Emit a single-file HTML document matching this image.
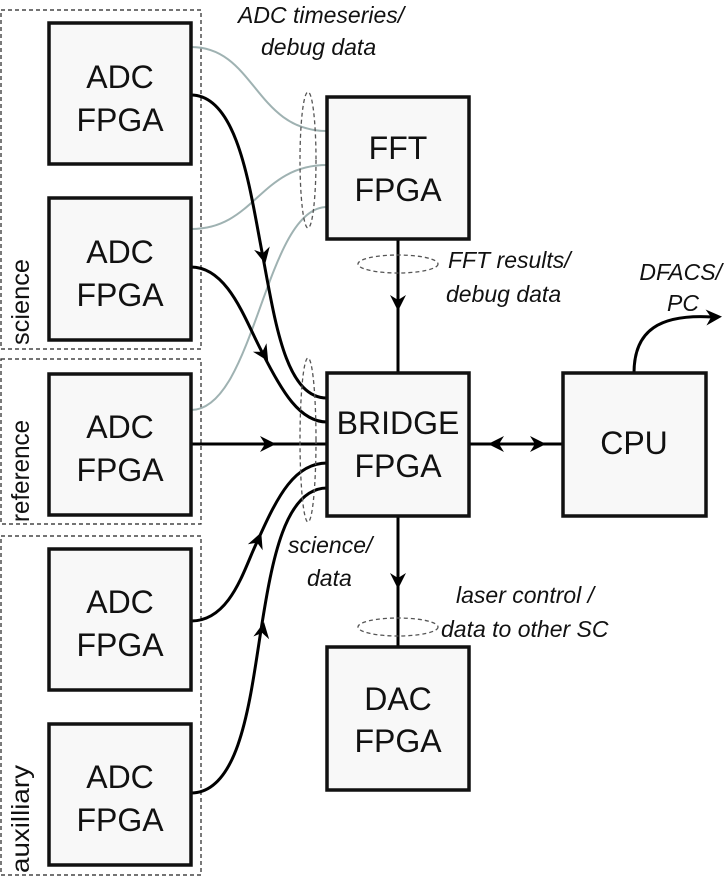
<!DOCTYPE html>
<html><head><meta charset="utf-8"><style>
html,body{margin:0;padding:0;background:#fff;}
svg{display:block;}
text{font-family:"Liberation Sans",sans-serif;fill:#111;}
.b{font-size:32px;}
.i{font-size:23px;font-style:italic;}
.s{font-size:25px;}
</style></head><body>
<svg width="727" height="876" viewBox="0 0 727 876" xmlns="http://www.w3.org/2000/svg">
<defs>
<polygon id="ah" points="-10,-8 6,0 -10,8 -5,0" fill="#000"/>
</defs>
<g fill="none" stroke="#222" stroke-width="1.2" stroke-dasharray="4,3">
<rect x="1" y="10" width="200" height="339"/>
<rect x="1" y="359" width="200" height="165"/>
<rect x="1" y="536" width="200" height="339"/>
</g>
<text class="s" transform="translate(29,345) rotate(-90)" textLength="86" lengthAdjust="spacingAndGlyphs">science</text>
<text class="s" transform="translate(29,522) rotate(-90)" textLength="102" lengthAdjust="spacingAndGlyphs">reference</text>
<text class="s" transform="translate(29,873) rotate(-90)" textLength="108" lengthAdjust="spacingAndGlyphs">auxilliary</text>

<g fill="none" stroke="#9fb2b2" stroke-width="2">
<path d="M191,47 C255,47 255,131 327,131"/>
<path d="M191,229 C255,229 260,165 327,165"/>
<path d="M191,410 C255,410 265,207 327,207"/>
</g>
<g fill="none" stroke="#000" stroke-width="3">
<path d="M191,95 C238,95 250,190 262,252 C275,320 285,398 327,398"/>
<path d="M191,267 C228,267 245,320 262,352 C282,392 300,422 327,422"/>
<path d="M191,444 L327,444"/>
<path d="M191,621 C232,621 245,565 258,540 C278,495 295,463 327,463"/>
<path d="M191,793 C240,793 250,700 261,630 C272,560 285,488 327,488"/>
<path d="M398,239 L398,373"/>
<path d="M398,516 L398,647"/>
<path d="M469,444 L563,444"/>
<path d="M634,373 C634,330 660,314 712,317"/>
</g>
<use href="#ah" transform="translate(264,258) rotate(78)"/>
<use href="#ah" transform="translate(265,356) rotate(58)"/>
<use href="#ah" transform="translate(270,444)"/>
<use href="#ah" transform="translate(259,538) rotate(-68)"/>
<use href="#ah" transform="translate(263,628) rotate(-80)"/>
<use href="#ah" transform="translate(398,305) rotate(90)"/>
<use href="#ah" transform="translate(398,583) rotate(90)"/>
<use href="#ah" transform="translate(494,444) rotate(180)"/>
<use href="#ah" transform="translate(540,444)"/>
<use href="#ah" transform="translate(716,317) rotate(-3)"/>

<g fill="none" stroke="#555" stroke-width="1.3" stroke-dasharray="4,3">
<ellipse cx="308" cy="160" rx="8" ry="68"/>
<ellipse cx="308" cy="440" rx="8" ry="82"/>
<ellipse cx="398" cy="264" rx="40" ry="9"/>
<ellipse cx="398" cy="627" rx="40" ry="9"/>
</g>

<g fill="#f8f8f8" stroke="#111" stroke-width="3.5">
<rect x="49" y="23" width="142" height="141"/>
<rect x="49" y="198" width="142" height="142"/>
<rect x="49" y="374" width="142" height="141"/>
<rect x="49" y="549" width="142" height="141"/>
<rect x="49" y="724" width="142" height="141"/>
<rect x="327" y="97" width="142" height="142"/>
<rect x="327" y="373" width="142" height="143"/>
<rect x="327" y="647" width="142" height="143"/>
<rect x="563" y="373" width="143" height="143"/>
</g>
<g class="b" text-anchor="middle">
<text x="120" y="88">ADC</text><text x="120" y="131">FPGA</text>
<text x="120" y="263">ADC</text><text x="120" y="306">FPGA</text>
<text x="120" y="438">ADC</text><text x="120" y="481">FPGA</text>
<text x="120" y="613">ADC</text><text x="120" y="656">FPGA</text>
<text x="120" y="788">ADC</text><text x="120" y="831">FPGA</text>
<text x="398" y="159">FFT</text><text x="398" y="201">FPGA</text>
<text x="398" y="434">BRIDGE</text><text x="398" y="477">FPGA</text>
<text x="398" y="710">DAC</text><text x="398" y="752">FPGA</text>
<text x="634" y="454">CPU</text>
</g>
<g class="i">
<text x="238" y="23">ADC timeseries/</text>
<text x="261" y="55">debug data</text>
<text x="448" y="268">FFT results/</text>
<text x="446" y="302">debug data</text>
<text x="722" y="280" text-anchor="end">DFACS/</text>
<text x="667" y="311">PC</text>
<text x="288" y="553">science/</text>
<text x="307" y="586">data</text>
<text x="456" y="603">laser control /</text>
<text x="441" y="637">data to other SC</text>
</g>
</svg>
</body></html>
